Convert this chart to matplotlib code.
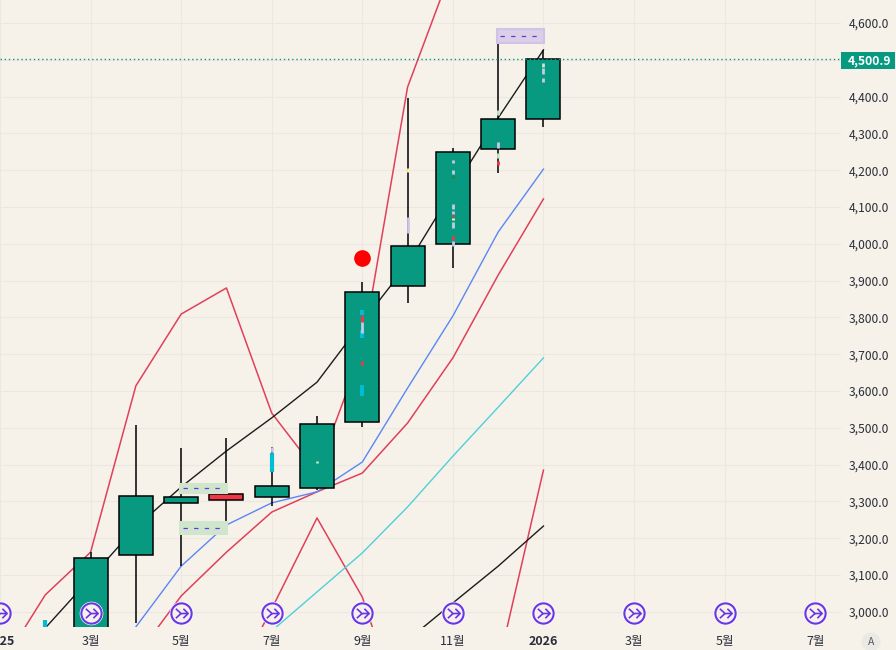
import matplotlib.pyplot as plt
from matplotlib.path import Path
from matplotlib.patches import Circle, Rectangle

plt.rcParams['font.family'] = ['Noto Sans CJK KR', 'DejaVu Sans']

# months are counted from March 2025 = 0
months = list(range(0, 11))
bodyOpen = [2900, 3154, 3296, 3320, 3312, 3336, 3516, 3885, 4000, 4258, 4339]
bodyClose = [3146, 3315, 3312, 3304, 3342, 3510, 3869, 3994, 4250, 4339, 4500.9]
wickHigh = [3162, 3508, 3445, 3472, 3448, 3532, 3896, 4396, 4260, 4580, 4527]
wickLow = [2900, 2970, 3124, 3245, 3287, 3331, 3502, 3839, 3934, 4192, 4318]

avgFast = [2956, 3092, 3230, 3339, 3437, 3527, 3624, 3787, 3945, 4146, 4342, 4527]
avgFastMonths = list(range(-1, 11))
avgBlue = [2959, 3124, 3236, 3296, 3326, 3407, 3608, 3804, 4032, 4203]
avgBlueMonths = list(range(1, 11))
avgRed = [2877, 3043, 3162, 3271, 3326, 3377, 3513, 3690, 3915, 4122]
avgRedMonths = list(range(1, 11))
avgCyan = [2948, 3054, 3160, 3285, 3423, 3556, 3690]
avgCyanMonths = list(range(4, 11))
bandHigh = [2850, 3046, 3162, 3614, 3809, 3880, 3540, 3380, 3711, 4426, 4755]
bandHighMonths = list(range(-2, 9))
lowerRed = [2774, 3008, 3255, 3040, 2673, 2652, 2853, 3385]
lowerRedMonths = list(range(3, 11))
lowerBlack = [2923, 3024, 3124, 3233]
lowerBlackMonths = list(range(7, 11))

# month, from, to, colour of the short marks along the candle centres
tickMarks = [
    (-1, 2959, 2978, "#00bcd4"),
    (4, 3380, 3431, "#00bcd4"), (4, 3434, 3448, "#d1c4e9"),
    (5, 3405, 3410, "#c8e6c9"),
    (6, 3806, 3820, "#00bcd4"), (6, 3744, 3766, "#00bcd4"),
    (6, 3586, 3616, "#00bcd4"), (6, 3788, 3806, "#f23645"),
    (6, 3758, 3788, "#c5cae9"), (6, 3671, 3681, "#f23645"),
    (7, 4195, 4206, "#fff59d"), (7, 4029, 4073, "#d1c4e9"),
    (8, 4220, 4228, "#c5cae9"), (8, 4190, 4201, "#c5cae9"),
    (8, 4179, 4184, "#2e7d32"), (8, 4095, 4108, "#c5cae9"),
    (8, 4081, 4089, "#c5cae9"), (8, 4073, 4078, "#f23645"),
    (8, 4065, 4070, "#fff59d"), (8, 4043, 4059, "#c5cae9"),
    (8, 4010, 4021, "#f23645"), (8, 3994, 4008, "#c5cae9"),
    (9, 4350, 4364, "#c8e6c9"), (9, 4260, 4277, "#c5cae9"),
    (9, 4233, 4247, "#c8e6c9"), (9, 4214, 4225, "#f23645"),
    (10, 4480, 4491, "#c8e6c9"), (10, 4461, 4478, "#c5cae9"),
    (10, 4440, 4451, "#c5cae9"),
]

# left month, right month, bottom, top, fill, edge
zones = [
    (1.98, 3.02, 3324, 3347, "#cfe6cd", "#cfe6cd"),
    (1.98, 3.02, 3211, 3244, "#cfe6cd", "#cfe6cd"),
    (8.98, 10.02, 4546, 4584, "#d9cfe6", "#cfc3e8"),
]

lastPrice = 4500.9
signalMonth = 6
signalPrice = 3962
iconMonths = [-2, 0, 2, 4, 6, 8, 10, 12, 14, 16]
iconPrice = 2996

xTickMonths = [-2, 0, 2, 4, 6, 8, 10, 12, 14, 16]
xTickLabels = ["2025", "3월", "5월", "7월", "9월", "11월", "2026", "3월", "5월", "7월"]
yTicks = list(range(3000, 4700, 100))

BACKGROUND = "#f6f2ea"
GRIDCOLOR = "#ebe8e1"
TEXTCOLOR = "#2a2e39"
UP = "#089981"
DOWN = "#f23645"
LINERED = "#e0405a"
BLUE = "#5b86f5"
CYAN = "#4fd0d8"
PURPLE = "#6a35e8"
BLACK = "#1c1c1c"


def drawCandles(ax):
    for i, month in enumerate(months):
        low, high = bodyOpen[i], bodyClose[i]
        color = UP if high >= low else DOWN
        ax.vlines(month, wickLow[i], wickHigh[i], color="black", linewidth=1.1, zorder=3)
        ax.bar(month, abs(high - low), bottom=min(low, high), width=0.75,
               color=color, edgecolor="black", linewidth=1.1, zorder=4)


def drawZones(ax):
    for left, right, bottom, top, fill, edge in zones:
        ax.add_patch(Rectangle((left, bottom), right - left, top - bottom,
                               facecolor=fill, edgecolor=edge, linewidth=1.5, zorder=5))
        ax.plot([left + 0.07, right - 0.1], [(bottom + top) / 2] * 2, color=PURPLE,
                linewidth=0.9, dashes=(3.5, 5), zorder=6)


def drawIcons(ax):
    arrow = Path([(-0.6, 0.5), (-0.05, 0), (0.7, 0), (0.2, 0.5), (0.7, 0), (0.2, -0.5),
                  (-0.6, -0.5), (-0.05, 0)],
                 [Path.MOVETO, Path.LINETO, Path.LINETO, Path.MOVETO, Path.LINETO, Path.LINETO,
                  Path.MOVETO, Path.LINETO])
    y = [iconPrice] * len(iconMonths)
    ax.plot(iconMonths, y, linestyle="none", marker="o", markersize=17, markerfacecolor="white",
            markeredgecolor="none", zorder=7)
    ax.plot(iconMonths, y, linestyle="none", marker="o", markersize=14.6, markerfacecolor=BACKGROUND,
            markeredgecolor=PURPLE, markeredgewidth=1.5, zorder=8)
    ax.plot(iconMonths, y, linestyle="none", marker=arrow, markersize=9.5, fillstyle="none",
            markeredgecolor=PURPLE, markeredgewidth=1.2, zorder=9)


def Main():
    fig = plt.figure(figsize=(8.96, 6.5), dpi=100, facecolor=BACKGROUND)
    ax = fig.add_axes([0, 23 / 650, 841 / 896, 627 / 650])
    ax.set_facecolor(BACKGROUND)
    ax.set_xlim(-1.998, 16.57)
    ax.set_ylim(2958.7, 4662.5)

    for spine in ax.spines.values():
        spine.set_visible(False)

    ax.set_axisbelow(True)
    ax.grid(True, color=GRIDCOLOR, linewidth=0.75)
    ax.set_xticks(xTickMonths)
    ax.set_xticklabels(xTickLabels)
    ax.set_yticks(yTicks)
    # the 4,500 row is left to the last price tag
    ax.set_yticklabels(["" if tick == 4500 else f"{tick:,.1f}" for tick in yTicks])
    ax.yaxis.tick_right()
    ax.tick_params(axis="x", length=0, pad=6, labelsize=9, labelcolor=TEXTCOLOR)
    ax.tick_params(axis="y", length=0, pad=5.8, labelsize=8.7, labelcolor=TEXTCOLOR)
    for label in ax.get_xticklabels():
        if label.get_text() in ("2025", "2026"):
            label.set_fontweight("bold")

    ax.plot(bandHighMonths, bandHigh, color=LINERED, linewidth=1.1, zorder=2)
    ax.plot(avgRedMonths, avgRed, color=LINERED, linewidth=1.1, zorder=2)
    ax.plot(lowerRedMonths, lowerRed, color=LINERED, linewidth=1.1, zorder=2)
    ax.plot(avgBlueMonths, avgBlue, color=BLUE, linewidth=1.0, zorder=2)
    ax.plot(avgCyanMonths, avgCyan, color=CYAN, linewidth=1.0, zorder=2)
    ax.plot(avgFastMonths, avgFast, color=BLACK, linewidth=1.0, zorder=2)
    ax.plot(lowerBlackMonths, lowerBlack, color=BLACK, linewidth=1.0, zorder=2)

    drawCandles(ax)
    drawZones(ax)

    for month, start, end, color in tickMarks:
        width = 3.0 if color == "#00bcd4" else 2.0
        ax.plot([month, month], [start, end], color=color, linewidth=width,
                solid_capstyle="butt", zorder=5)

    ax.plot(signalMonth, signalPrice, marker="o", markersize=12, color="#ff0000",
            markeredgecolor="none", zorder=6)
    ax.axhline(lastPrice, color=UP, linewidth=1.0, dashes=(1, 2), zorder=6)
    drawIcons(ax)

    # last price tag on the scale
    tagBottom = (650 - 69) / 650
    fig.patches.append(Rectangle((841 / 896, tagBottom), 54 / 896, 17 / 650, transform=fig.transFigure,
                                 facecolor=UP, edgecolor="none"))
    fig.text(869 / 896, (650 - 60.5) / 650, f"{lastPrice:,.1f}", color="white", fontsize=8.7,
             fontweight="bold", ha="center", va="center")

    # auto scale button in the corner
    fig.patches.append(Circle((871, 8), 9.5, transform=None, facecolor="#ebe9e4", edgecolor="none"))
    fig.text(871 / 896, (650 - 642) / 650, "A", color="#555a66", fontsize=7.5, ha="center", va="center")

    fig.savefig("out.png", dpi=100, facecolor=BACKGROUND)


Main()
